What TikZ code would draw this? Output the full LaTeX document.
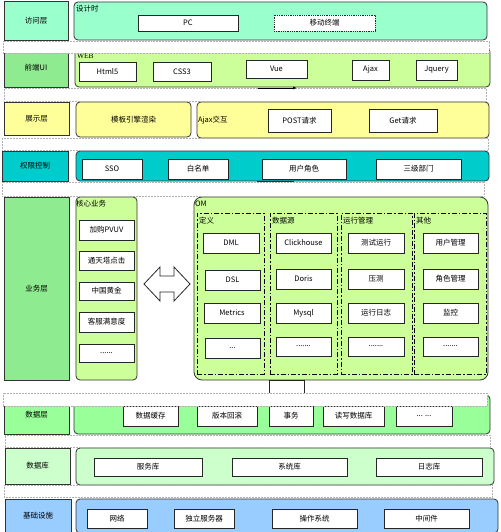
\documentclass[tikz,border=0pt]{standalone}
\usepackage{fontspec}
\setmainfont{Noto Sans CJK SC}
\newfontfamily\serifw{Liberation Serif}
\usetikzlibrary{arrows.meta}
\definecolor{cmint}{HTML}{99FFCC}
\definecolor{cgreenA}{HTML}{8FEB8F}
\definecolor{clime}{HTML}{CCFF99}
\definecolor{cyel}{HTML}{FFFF99}
\definecolor{cteal}{HTML}{00CCCC}
\definecolor{cgreenB}{HTML}{99FF99}
\definecolor{cpale}{HTML}{CCFFCC}
\definecolor{cblue}{HTML}{99CCFF}
\newcommand\mybox[7]{\node[#1, minimum width={#5-#3}, minimum height={#6-#4}] (#2) at ({(#3+#5)/2},{(#4+#6)/2}) {#7};}
\begin{document}
\begin{tikzpicture}[x=1pt,y=-1pt,
  every node/.style={font=\fontsize{7.5}{8.5}\selectfont, inner sep=0pt, outer sep=0pt},
  lab/.style={draw=black!80, line width=0.8pt},
  cont/.style={draw=black!80, line width=0.8pt, rounded corners=4pt},
  item/.style={draw=black!85, fill=white, line width=0.8pt},
  ditem/.style={draw=black!85, fill=white, line width=0.8pt, densely dotted},
  over/.style={draw=gray!60, fill=white, densely dotted, line width=0.5pt},
  col/.style={draw=black, line width=0.9pt, dash pattern=on 5pt off 2pt on 1.5pt off 2pt},
  tag/.style={anchor=north west, inner sep=1pt}]
\useasboundingbox (0,0) rectangle (500,532);
\fill[white] (0,0) rectangle (500,532);
% Row 1
\mybox{lab, fill=cmint}{L1}{4}{1}{68}{40}{访问层}
\mybox{cont, fill=cmint}{M1}{74}{2}{487}{40}{}
\node[tag] (t1) at (75,4) {设计时};
\mybox{item}{pc}{138}{15}{238}{31}{PC}
\mybox{ditem}{mob}{274}{15}{375}{31}{移动终端}
% Row 2
\mybox{lab, fill=cgreenA}{L2}{4}{48}{68}{87}{前端UI}
\mybox{cont, fill=clime}{M2}{75}{48}{490}{87}{}
\node[tag, font=\serifw\fontsize{7.5}{8.5}\selectfont] (t2) at (76,53) {WEB};
\mybox{item}{html}{79}{62}{136}{81}{Html5}
\mybox{item}{css}{153}{62}{211}{81}{CSS3}
\mybox{item}{vue}{246}{60}{307}{78}{Vue}
\mybox{item}{ajax}{352}{60}{389}{80}{Ajax}
\mybox{item}{jq}{416}{60}{457}{80}{Jquery}
% Row 3
\mybox{lab, fill=cyel}{L3}{4}{102}{69}{135}{展示层}
\mybox{cont, fill=cyel}{M3a}{76}{102}{191}{137}{模板引擎渲染}
\mybox{cont, fill=cyel}{M3b}{197}{102}{489}{138}{}
\node[anchor=west, inner sep=1pt] (t3) at (197,120) {Ajax交互};
\mybox{item}{post}{268}{109}{331}{132}{POST请求}
\mybox{item}{get}{369}{109}{437}{132}{Get请求}
% Row 4
\mybox{lab, fill=cteal}{L4}{2}{151}{68}{181}{权限控制}
\mybox{cont, fill=cteal}{M4}{76}{151}{489}{181}{}
\mybox{item}{sso}{82}{159}{142}{179}{SSO}
\mybox{item}{white}{168}{159}{228}{179}{白名单}
\mybox{item}{role}{262}{159}{346}{179}{用户角色}
\mybox{item}{dept}{376}{159}{461}{179}{三级部门}
\mybox{item}{hid1}{257}{181}{293}{200}{}
% Row 5
\mybox{lab, fill=cgreenA}{L5}{4}{197}{69}{380}{业务层}
\mybox{cont, fill=clime}{core}{76}{197}{137}{380}{}
\node[tag] (t5) at (75,199) {核心业务};
\mybox{item}{b1}{79}{220}{134}{240}{加购PVUV}
\mybox{item}{b2}{79}{251}{134}{270}{通天塔点击}
\mybox{item}{b3}{79}{282}{134}{300}{中国黄金}
\mybox{item}{b4}{79}{312}{134}{332}{客服满意度}
\mybox{item}{b5}{79}{344}{134}{362}{......}
\draw[fill=white, draw=black!85, line width=0.8pt] (144,284) -- (160,267) -- (160,276) -- (174,276) -- (174,267) -- (190,284) -- (174,301) -- (174,292) -- (160,292) -- (160,301) -- cycle;
\mybox{cont, fill=clime, rounded corners=8pt}{om}{194}{197}{488}{380}{}
\node[tag] (tom) at (194,200) {OM};
\mybox{col}{c1}{197}{213}{264}{374}{}
\mybox{col}{c2}{270}{213}{337}{374}{}
\mybox{col}{c3}{341}{213}{412}{374}{}
\mybox{col}{c4}{414}{213}{486}{374}{}
\node[tag] (tc1) at (198,216) {定义};
\node[tag] (tc2) at (271,216) {数据源};
\node[tag] (tc3) at (342,216) {运行管理};
\node[tag] (tc4) at (415,216) {其他};
\mybox{item}{d1}{203}{233}{259}{253}{DML}
\mybox{item}{d2}{205}{270}{260}{290}{DSL}
\mybox{item}{d3}{204}{303}{260}{323}{Metrics}
\mybox{item}{d4}{205}{338}{260}{358}{...}
\mybox{item}{s1}{276}{233}{331}{253}{Clickhouse}
\mybox{item}{s2}{276}{269}{331}{289}{Doris}
\mybox{item}{s3}{276}{303}{331}{323}{Mysql}
\mybox{item}{s4}{276}{337}{331}{356}{.......}
\mybox{item}{r1}{348}{233}{404}{253}{测试运行}
\mybox{item}{r2}{348}{269}{404}{289}{压测}
\mybox{item}{r3}{348}{303}{404}{323}{运行日志}
\mybox{item}{r4}{348}{337}{404}{356}{.......}
\mybox{item}{o1}{423}{233}{478}{253}{用户管理}
\mybox{item}{o2}{423}{269}{478}{289}{角色管理}
\mybox{item}{o3}{423}{303}{478}{323}{监控}
\mybox{item}{o4}{423}{337}{478}{356}{.......}
\mybox{item}{hid2}{269}{380}{304}{400}{}
% Row 6
\mybox{lab, fill=cgreenB}{L6}{4}{395}{69}{434}{数据层}
\mybox{cont, fill=cgreenB}{M6}{74}{395}{490}{434}{}
\mybox{item}{e1}{123}{406}{178}{426}{数据缓存}
\mybox{item}{e2}{197}{406}{257}{426}{版本回滚}
\mybox{item}{e3}{269}{406}{313}{426}{事务}
\mybox{item}{e4}{323}{406}{384}{426}{读写数据库}
\mybox{item}{e5}{396}{406}{452}{426}{... ...}
% Row 7
\mybox{lab, fill=cpale}{L7}{5}{448}{70}{484}{数据库}
\mybox{cont, fill=cpale}{M7}{76}{448}{494}{485}{}
\mybox{item}{f1}{94}{458}{202}{476}{服务库}
\mybox{item}{f2}{232}{458}{347}{476}{系统库}
\mybox{item}{f3}{376}{458}{482}{476}{日志库}
% Row 8
\mybox{lab, fill=cblue}{L8}{5}{499}{71}{533}{基础设施}
\mybox{cont, fill=cblue}{M8}{76}{499}{498}{533}{}
\mybox{item}{g1}{87}{509}{147}{528}{网络}
\mybox{item}{g2}{174}{509}{234}{528}{独立服务器}
\mybox{item}{g3}{272}{509}{357}{528}{操作系统}
\mybox{item}{g4}{384}{509}{469}{528}{中间件}
% overlays
\mybox{over}{O1}{3}{41}{489}{53}{}
\mybox{over}{O2}{4}{88.5}{486}{101}{}
\mybox{over}{O3}{2}{138.5}{488}{150}{}
\mybox{over}{O4}{2}{182}{484}{196}{}
\mybox{over}{O5}{3}{393}{487}{406}{}
\mybox{over}{O6}{5}{435}{490}{447}{}
\mybox{over}{O7}{4}{485.5}{492}{497}{}
% small arrow
\coordinate (a1) at (258,88);
\coordinate (a2) at (297,88);
\draw[-{Latex[length=4pt,width=3pt]}, line width=0.8pt] (a1) -- (a2);
\end{tikzpicture}
\end{document}
